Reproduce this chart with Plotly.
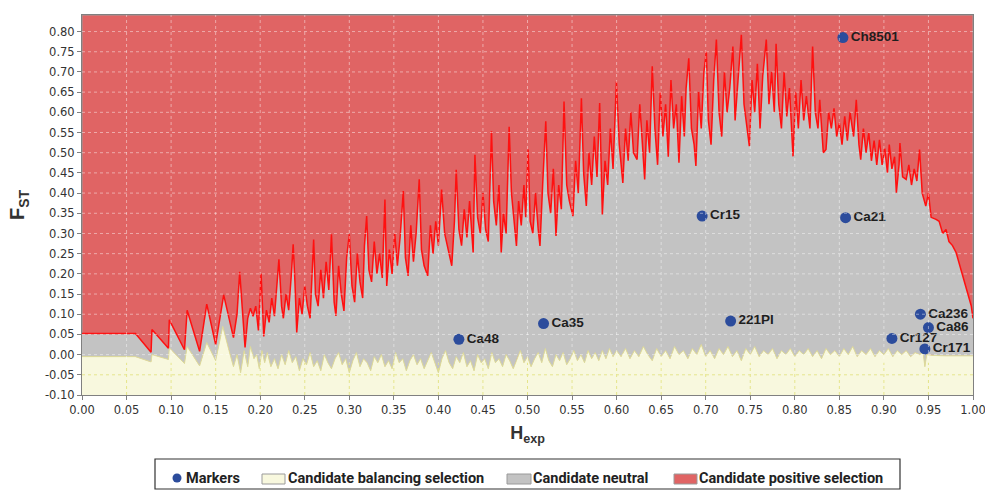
import plotly.graph_objects as go

# ---------------- data ----------------
# Upper boundary of the neutral envelope (jagged red line)
upper_hexp = [0.000, 0.060, 0.0775, 0.0785, 0.097, 0.098, 0.115, 0.118, 0.132, 0.140, 0.150, 0.159, 0.170, 0.174, 0.177, 0.180, 0.183, 0.186, 0.189, 0.192, 0.195, 0.198, 0.201,
    0.204, 0.207, 0.210, 0.213, 0.216, 0.219, 0.221, 0.224, 0.226, 0.229, 0.232, 0.235, 0.237, 0.239, 0.241, 0.244, 0.247, 0.250, 0.253, 0.256, 0.258, 0.260, 0.262, 0.265,
    0.268, 0.271, 0.274, 0.277, 0.280, 0.283, 0.285, 0.288, 0.291, 0.294, 0.297, 0.300, 0.303, 0.306, 0.309, 0.312, 0.315, 0.317, 0.3195, 0.322, 0.325, 0.328, 0.331, 0.334,
    0.337, 0.340, 0.342, 0.345, 0.348, 0.351, 0.354, 0.357, 0.3606, 0.363, 0.366, 0.369, 0.372, 0.375, 0.3785, 0.381, 0.384, 0.388, 0.391, 0.394, 0.397, 0.400, 0.4036,
    0.407, 0.411, 0.415, 0.418, 0.420, 0.423, 0.426, 0.429, 0.432, 0.435, 0.439, 0.441, 0.444, 0.447, 0.450, 0.453, 0.456, 0.4596, 0.462, 0.465, 0.468, 0.4705, 0.473, 0.476,
    0.4794, 0.482, 0.485, 0.4876, 0.490, 0.493, 0.496, 0.498, 0.5007, 0.503, 0.506, 0.509, 0.512, 0.514, 0.517, 0.5205, 0.523, 0.526, 0.529, 0.532, 0.535, 0.538, 0.541,
    0.544, 0.547, 0.551, 0.554, 0.557, 0.5605, 0.563, 0.566, 0.569, 0.572, 0.575, 0.578, 0.581, 0.584, 0.587, 0.590, 0.593, 0.596, 0.5998, 0.603, 0.607, 0.610, 0.613, 0.616,
    0.619, 0.623, 0.626, 0.629, 0.6315, 0.634, 0.637, 0.640, 0.643, 0.646, 0.649, 0.652, 0.655, 0.658, 0.661, 0.664, 0.667, 0.670, 0.673, 0.676, 0.678, 0.681, 0.684, 0.687,
    0.689, 0.692, 0.695, 0.698, 0.7007, 0.703, 0.706, 0.709, 0.712, 0.715, 0.718, 0.721, 0.724, 0.727, 0.7305, 0.733, 0.736, 0.740, 0.743, 0.746, 0.749, 0.752, 0.755, 0.758,
    0.761, 0.764, 0.768, 0.771, 0.774, 0.777, 0.779, 0.782, 0.785, 0.788, 0.791, 0.794, 0.798, 0.801, 0.804, 0.807, 0.810, 0.813, 0.817, 0.820, 0.823, 0.826, 0.828, 0.832,
    0.835, 0.838, 0.841, 0.844, 0.847, 0.850, 0.853, 0.856, 0.859, 0.862, 0.866, 0.869, 0.872, 0.874, 0.877, 0.880, 0.883, 0.886, 0.889, 0.892, 0.895, 0.898, 0.901, 0.904,
    0.906, 0.909, 0.912, 0.914, 0.917, 0.918, 0.921, 0.925, 0.928, 0.931, 0.934, 0.937, 0.940, 0.943, 0.947, 0.950, 0.953, 0.9585, 0.962, 0.966, 0.9697, 0.973, 0.977, 0.981,
    0.984, 0.988, 0.991, 0.994, 0.998, 1.000]
upper_fst = [0.052, 0.052, 0.006, 0.062, 0.016, 0.086, 0.012, 0.110, 0.008, 0.125, 0.025, 0.148, 0.042, 0.100, 0.205, 0.100, 0.018, 0.090, 0.115, 0.095, 0.120, 0.060, 0.200,
    0.045, 0.110, 0.080, 0.140, 0.095, 0.180, 0.236, 0.120, 0.090, 0.150, 0.110, 0.200, 0.273, 0.180, 0.055, 0.140, 0.100, 0.170, 0.120, 0.090, 0.200, 0.285, 0.150, 0.120,
    0.210, 0.140, 0.230, 0.160, 0.298, 0.130, 0.096, 0.220, 0.150, 0.108, 0.240, 0.298, 0.170, 0.130, 0.250, 0.180, 0.140, 0.270, 0.343, 0.210, 0.180, 0.280, 0.200, 0.250,
    0.190, 0.384, 0.170, 0.260, 0.200, 0.300, 0.220, 0.290, 0.405, 0.240, 0.195, 0.320, 0.230, 0.300, 0.434, 0.260, 0.220, 0.195, 0.320, 0.250, 0.330, 0.270, 0.409,
    0.300, 0.260, 0.220, 0.330, 0.458, 0.310, 0.270, 0.360, 0.290, 0.380, 0.253, 0.495, 0.340, 0.300, 0.400, 0.310, 0.280, 0.553, 0.380, 0.320, 0.420, 0.253, 0.350, 0.300,
    0.564, 0.400, 0.330, 0.269, 0.380, 0.320, 0.420, 0.340, 0.508, 0.330, 0.300, 0.400, 0.310, 0.269, 0.420, 0.578, 0.400, 0.350, 0.460, 0.294, 0.420, 0.360, 0.627,
    0.420, 0.380, 0.343, 0.480, 0.400, 0.635, 0.450, 0.368, 0.500, 0.420, 0.540, 0.440, 0.623, 0.347, 0.480, 0.420, 0.560, 0.460, 0.676, 0.520, 0.425, 0.560, 0.480, 0.600,
    0.500, 0.483, 0.620, 0.520, 0.434, 0.580, 0.500, 0.714, 0.560, 0.470, 0.650, 0.540, 0.620, 0.490, 0.680, 0.560, 0.620, 0.475, 0.640, 0.540, 0.660, 0.734, 0.560, 0.520,
    0.467, 0.650, 0.560, 0.700, 0.751, 0.580, 0.520, 0.680, 0.780, 0.600, 0.540, 0.700, 0.600, 0.660, 0.763, 0.580, 0.680, 0.792, 0.620, 0.560, 0.516, 0.680, 0.600, 0.720,
    0.560, 0.690, 0.780, 0.620, 0.700, 0.600, 0.770, 0.620, 0.560, 0.700, 0.590, 0.660, 0.491, 0.650, 0.560, 0.680, 0.580, 0.640, 0.560, 0.763, 0.600, 0.560, 0.631, 0.500,
    0.508, 0.600, 0.560, 0.610, 0.540, 0.574, 0.520, 0.590, 0.530, 0.600, 0.540, 0.631, 0.520, 0.483, 0.560, 0.500, 0.550, 0.480, 0.530, 0.470, 0.532, 0.470, 0.510, 0.450,
    0.520, 0.460, 0.490, 0.401, 0.470, 0.524, 0.440, 0.434, 0.470, 0.420, 0.460, 0.430, 0.508, 0.400, 0.368, 0.400, 0.340, 0.335, 0.330, 0.300, 0.310, 0.280, 0.270, 0.253,
    0.230, 0.203, 0.180, 0.154, 0.121, 0.090]

# Lower boundary of the neutral envelope (balancing-selection limit)
lower_hexp = [0.000, 0.060, 0.0775, 0.0785, 0.097, 0.098, 0.115, 0.118, 0.132, 0.140, 0.150, 0.158, 0.165, 0.170, 0.174, 0.178, 0.182, 0.186, 0.189, 0.193, 0.196, 0.199, 0.202,
    0.205, 0.208, 0.212, 0.216, 0.220, 0.224, 0.228, 0.232, 0.236, 0.240, 0.244, 0.248, 0.252, 0.256, 0.260, 0.264, 0.268, 0.272, 0.276, 0.280, 0.284, 0.288, 0.292, 0.296,
    0.300, 0.304, 0.308, 0.312, 0.316, 0.320, 0.324, 0.328, 0.332, 0.336, 0.340, 0.344, 0.348, 0.352, 0.356, 0.360, 0.364, 0.368, 0.372, 0.376, 0.380, 0.384, 0.388, 0.392,
    0.396, 0.400, 0.404, 0.408, 0.412, 0.416, 0.420, 0.424, 0.428, 0.432, 0.436, 0.440, 0.444, 0.448, 0.452, 0.456, 0.460, 0.464, 0.468, 0.472, 0.476, 0.480, 0.484, 0.488,
    0.492, 0.496, 0.500, 0.504, 0.508, 0.512, 0.516, 0.520, 0.524, 0.528, 0.532, 0.536, 0.540, 0.544, 0.548, 0.552, 0.556, 0.560, 0.564, 0.568, 0.572, 0.576, 0.580, 0.584,
    0.588, 0.592, 0.596, 0.600, 0.605, 0.610, 0.615, 0.620, 0.625, 0.630, 0.635, 0.640, 0.645, 0.650, 0.655, 0.660, 0.665, 0.670, 0.675, 0.680, 0.685, 0.690, 0.695, 0.700,
    0.705, 0.710, 0.715, 0.720, 0.725, 0.730, 0.735, 0.740, 0.745, 0.750, 0.755, 0.760, 0.765, 0.770, 0.775, 0.780, 0.785, 0.790, 0.795, 0.800, 0.805, 0.810, 0.815, 0.820,
    0.825, 0.830, 0.835, 0.840, 0.845, 0.850, 0.855, 0.860, 0.865, 0.870, 0.875, 0.880, 0.885, 0.890, 0.895, 0.900, 0.905, 0.910, 0.915, 0.920, 0.925, 0.930, 0.935, 0.940,
    0.944, 0.946, 0.948, 0.955, 0.970, 1.000]
lower_fst = [-0.005, -0.005, -0.018, 0.000, -0.012, 0.017, -0.022, 0.020, -0.028, 0.030, -0.015, 0.070, 0.010, -0.030, 0.000, -0.045, 0.010, -0.030, 0.020, -0.010, 0.000, -0.035, 0.010,
    -0.020, 0.005, -0.030, -0.010, -0.035, 0.000, -0.025, 0.010, -0.020, -0.005, -0.040, -0.010, -0.025, 0.005, -0.030, -0.015, -0.040, 0.000, -0.020, -0.035, -0.010, 0.005, -0.025, -0.010,
    -0.045, -0.015, 0.005, -0.030, -0.010, -0.020, -0.040, -0.005, -0.020, 0.000, -0.030, -0.015, -0.035, 0.005, -0.020, -0.010, -0.040, -0.015, 0.000, -0.025, -0.010, -0.035, -0.015, 0.005,
    -0.020, -0.045, -0.010, 0.010, -0.020, -0.035, -0.005, -0.020, 0.005, -0.030, -0.015, -0.040, 0.000, -0.020, -0.010, -0.035, 0.005, -0.020, -0.010, -0.030, 0.000, -0.015, -0.035, -0.010,
    0.010, -0.020, -0.005, -0.030, -0.010, 0.005, -0.020, 0.015, -0.015, -0.030, 0.000, -0.015, 0.005, -0.025, -0.010, 0.010, -0.015, 0.000, -0.020, 0.010, -0.010, 0.005, -0.015, 0.010,
    -0.010, 0.015, -0.005, 0.010, -0.005, 0.015, -0.010, 0.010, -0.005, 0.020, 0.000, -0.015, 0.015, -0.005, 0.010, -0.010, 0.020, 0.000, 0.010, -0.010, 0.015, 0.000, 0.025, -0.005,
    0.010, -0.010, 0.015, 0.000, 0.020, -0.005, 0.010, -0.015, 0.015, 0.000, 0.020, -0.005, 0.010, 0.000, 0.015, -0.010, 0.010, 0.000, 0.015, -0.005, 0.010, 0.000, 0.015, -0.005,
    0.010, -0.010, 0.015, 0.000, 0.010, -0.005, 0.015, 0.000, 0.020, -0.005, 0.010, 0.000, 0.015, -0.005, 0.010, 0.000, 0.015, -0.005, 0.010, 0.000, 0.010, -0.005, 0.005, 0.000,
    0.005, -0.030, 0.000, -0.002, -0.003, -0.003]

# Loci (markers)
marker_names = ["Ch8501", "Cr15", "Ca21", "221Pl", "Ca48", "Ca35", "Ca236", "Ca86", "Cr127", "Cr171"]
marker_hexp = [0.854, 0.696, 0.857, 0.728, 0.423, 0.518, 0.941, 0.950, 0.909, 0.946]
marker_fst = [0.785, 0.343, 0.339, 0.083, 0.038, 0.077, 0.100, 0.067, 0.040, 0.014]

# Legend entries
legend_labels = ["Markers", "Candidate balancing selection", "Candidate neutral", "Candidate positive selection"]

# Axis ticks
x_ticks = [round(i * 0.05, 2) for i in range(21)]
y_ticks = [round(-0.10 + i * 0.05, 2) for i in range(19)]
X_MIN, X_MAX = 0.0, 1.0
Y_MIN, Y_MAX = -0.10, 0.841

# ---------------- colours ----------------
RED_BG = "#E06464"
GRAY = "#C3C3C3"
YELLOW = "#F8F8DE"
RED_LINE = "#FF1010"
BLUE = "#2C4C9C"
GRID = "rgba(255,255,255,0.45)"
GRID_Y = "rgba(225,225,120,0.85)"

# ---------------- layout geometry (pixels) ----------------
W, H = 985, 490
ML, MR, MT, MB = 82, 12, 15, 95
PW, PH = W - ML - MR, H - MT - MB


def px(xpix):
    return (xpix - ML) / PW


def py(ypix):
    return (H - MB - ypix) / PH


fig = go.Figure()

# positive selection region (whole plot background)
fig.add_trace(go.Scatter(
    x=[X_MIN, X_MAX, X_MAX, X_MIN, X_MIN], y=[Y_MIN, Y_MIN, Y_MAX, Y_MAX, Y_MIN],
    fill="toself", fillcolor=RED_BG, mode="lines", line=dict(color="#9a9a9a", width=1),
    name=legend_labels[3], showlegend=False, hoverinfo="skip"))

# neutral region
fig.add_trace(go.Scatter(
    x=upper_hexp + lower_hexp[::-1], y=upper_fst + lower_fst[::-1],
    fill="toself", fillcolor=GRAY, mode="lines", line=dict(width=0),
    name=legend_labels[2], showlegend=False, hoverinfo="skip"))

# balancing selection region
fig.add_trace(go.Scatter(
    x=lower_hexp + [X_MAX, X_MIN], y=lower_fst + [Y_MIN, Y_MIN],
    fill="toself", fillcolor=YELLOW, mode="lines", line=dict(width=0),
    name=legend_labels[1], showlegend=False, hoverinfo="skip"))

# boundary lines
fig.add_trace(go.Scatter(x=lower_hexp, y=lower_fst, mode="lines",
                         line=dict(color="#DCDC9A", width=1), showlegend=False, hoverinfo="skip"))
fig.add_trace(go.Scatter(x=upper_hexp, y=upper_fst, mode="lines",
                         line=dict(color=RED_LINE, width=1.5), showlegend=False, hoverinfo="skip"))

# markers
fig.add_trace(go.Scatter(
    x=marker_hexp, y=marker_fst, mode="markers+text", text=marker_names,
    textposition="middle right",
    textfont=dict(family="Liberation Sans, Arial, sans-serif", size=13.5, color="#1e1e1e", weight="bold"),
    marker=dict(color=BLUE, size=11), name=legend_labels[0], showlegend=False))

# dotted grid drawn above the coloured regions
shapes = []
for xv in x_ticks[1:-1]:
    shapes.append(dict(type="line", xref="x", yref="y", x0=xv, x1=xv, y0=Y_MIN, y1=Y_MAX,
                       line=dict(color=GRID, width=1, dash="dot"), layer="above"))
    shapes.append(dict(type="line", xref="x", yref="y", x0=xv, x1=xv, y0=Y_MIN, y1=-0.02,
                       line=dict(color=GRID_Y, width=1, dash="dot"), layer="above"))
for yv in y_ticks[1:]:
    shapes.append(dict(type="line", xref="x", yref="y", x0=X_MIN, x1=X_MAX, y0=yv, y1=yv,
                       line=dict(color=GRID, width=1, dash="dot"), layer="above"))
for yv in y_ticks[1:2]:
    shapes.append(dict(type="line", xref="x", yref="y", x0=X_MIN, x1=X_MAX, y0=yv, y1=yv,
                       line=dict(color=GRID_Y, width=1, dash="dot"), layer="above"))

# custom boxed legend (below the plot)
annotations = []
shapes.append(dict(type="rect", xref="paper", yref="paper", x0=px(155), x1=px(900), y0=py(459), y1=py(489),
                   line=dict(color="#333333", width=1.2), fillcolor="white", layer="above"))
shapes.append(dict(type="circle", xref="paper", yref="paper", x0=px(172.5), x1=px(181.5), y0=py(473.5), y1=py(482.5),
                   line=dict(color=BLUE, width=0), fillcolor=BLUE, layer="above"))
swatches = [(None, 184), ((262, 285, YELLOW), 286), ((507, 531, GRAY), 531), ((674, 697, RED_BG), 697)]
for label, (sw, tx) in zip(legend_labels, swatches):
    if sw is not None:
        shapes.append(dict(type="rect", xref="paper", yref="paper", x0=px(sw[0]), x1=px(sw[1]),
                           y0=py(474), y1=py(484), line=dict(color="#9a9a9a", width=1),
                           fillcolor=sw[2], layer="above"))
    annotations.append(dict(text=label, xref="paper", yref="paper", x=px(tx), y=py(478.5),
                            xanchor="left", yanchor="middle", showarrow=False,
                            font=dict(family="Liberation Sans Narrow, Arial Narrow, Roboto, sans-serif",
                                      size=14.5, color="#222222", weight="bold")))

fig.update_layout(
    width=W, height=H,
    margin=dict(l=ML, r=MR, t=MT, b=MB),
    paper_bgcolor="white", plot_bgcolor=RED_BG,
    shapes=shapes, annotations=annotations,
    font=dict(family="DejaVu Sans, sans-serif", size=11.5, color="#333333"),
    xaxis=dict(range=[X_MIN, X_MAX], tickvals=x_ticks, ticktext=[f"{v:.2f}" for v in x_ticks],
               showgrid=False, zeroline=False, showline=True, linecolor="#808080", linewidth=1,
               mirror=True, ticks="outside", ticklen=4, tickcolor="#808080", automargin=False,
               ticklabeloverflow="allow",
               title=dict(text="<b>H<sub>exp</sub></b>", font=dict(family="Liberation Sans, Arial, sans-serif",
                                                                  size=18, color="#333333"), standoff=10)),
    yaxis=dict(range=[Y_MIN, Y_MAX], tickvals=y_ticks, ticktext=[f"{v:.2f}" for v in y_ticks],
               showgrid=False, zeroline=False, showline=True, linecolor="#808080", linewidth=1,
               mirror=True, ticks="outside", ticklen=4, tickcolor="#808080", automargin=False,
               title=dict(text="<b>F<sub>ST</sub></b>", font=dict(family="Liberation Sans, Arial, sans-serif",
                                                                 size=20, color="#333333"), standoff=14)),
    showlegend=False,
)

fig.write_html("out.html", config={"displayModeBar": False},
               post_script="document.body.style.margin='0';document.body.style.padding='0';")
